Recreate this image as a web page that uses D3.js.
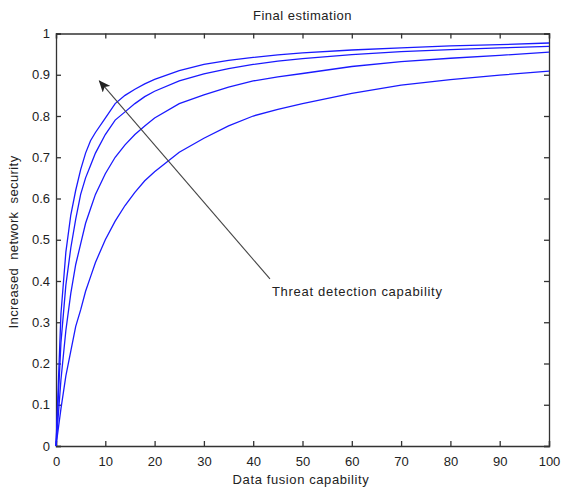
<!DOCTYPE html>
<html>
<head>
<meta charset="utf-8">
<script src="https://d3js.org/d3.v7.min.js"></script>
<style>
  body { margin: 0; background: #fff; }
  text { font-family: "Liberation Sans", Arial, sans-serif; }
</style>
</head>
<body>
<div id="svgdiv"></div>
<script>
// data
var xVals = [0, 1, 2, 3, 4, 5, 6, 7, 8, 10, 12, 14, 16, 18, 20, 25, 30, 35, 40, 45, 50, 60, 70, 80, 90, 100];
var curveA = [0, 0.32, 0.47, 0.56, 0.62, 0.67, 0.71, 0.74, 0.76, 0.795, 0.83, 0.85, 0.865, 0.878, 0.889, 0.91, 0.925, 0.935, 0.942, 0.948, 0.953, 0.96, 0.965, 0.97, 0.973, 0.977];
var curveB = [0, 0.25, 0.39, 0.48, 0.55, 0.61, 0.65, 0.68, 0.71, 0.755, 0.79, 0.81, 0.83, 0.847, 0.86, 0.885, 0.902, 0.915, 0.925, 0.933, 0.939, 0.949, 0.956, 0.961, 0.965, 0.969];
var curveC = [0, 0.16, 0.28, 0.37, 0.44, 0.49, 0.54, 0.575, 0.61, 0.66, 0.70, 0.73, 0.755, 0.776, 0.795, 0.83, 0.851, 0.87, 0.885, 0.895, 0.903, 0.92, 0.932, 0.94, 0.947, 0.955];
var curveD = [0, 0.09, 0.17, 0.23, 0.29, 0.33, 0.375, 0.41, 0.445, 0.50, 0.545, 0.583, 0.615, 0.643, 0.665, 0.712, 0.746, 0.776, 0.80, 0.816, 0.83, 0.855, 0.875, 0.888, 0.899, 0.909];
var xTicks = [0, 10, 20, 30, 40, 50, 60, 70, 80, 90, 100];
var yTicks = [0, 0.1, 0.2, 0.3, 0.4, 0.5, 0.6, 0.7, 0.8, 0.9, 1];
// annotation: arrow from label to upper left
var arrowFrom = [43.4, 0.405];
var arrowTo = [8.8, 0.885];
var noteText = "Threat detection capability";

var width = 564, height = 490;
var margin = {top: 33.5, right: 15, bottom: 44, left: 56};

var svg = d3.select("#svgdiv")
  .append("svg")
  .attr("width", width)
  .attr("height", height);

var x = d3.scaleLinear().domain([0, 100]).range([margin.left, width - margin.right]);
var y = d3.scaleLinear().domain([0, 1]).range([height - margin.bottom, margin.top]);

var axisColor = "#333";

// bottom axis
var gx = svg.append("g")
  .attr("transform", "translate(0," + y(0) + ")")
  .call(d3.axisBottom(x).tickValues(xTicks).tickSize(-5).tickPadding(14).tickFormat(d3.format("d")));
// left axis
var gy = svg.append("g")
  .attr("transform", "translate(" + x(0) + ",0)")
  .call(d3.axisLeft(y).tickValues(yTicks).tickSize(-5).tickPadding(6).tickFormat(function(d){ return d === 0 || d === 1 ? d3.format("d")(d) : d3.format(".1f")(d); }));
// top and right (box, inward ticks, no labels)
var gt = svg.append("g")
  .attr("transform", "translate(0," + y(1) + ")")
  .call(d3.axisTop(x).tickValues(xTicks).tickSize(-5).tickFormat(""));
var gr = svg.append("g")
  .attr("transform", "translate(" + x(100) + ",0)")
  .call(d3.axisRight(y).tickValues(yTicks).tickSize(-5).tickFormat(""));

[gx, gy, gt, gr].forEach(function(g){
  g.selectAll("path.domain").attr("stroke", axisColor).attr("stroke-width", 1.3);
  g.selectAll(".tick line").attr("stroke", axisColor).attr("stroke-width", 1.3);
  g.selectAll(".tick text")
    .attr("fill", "#222")
    .style("font-size", "13px")
    .style("font-family", "'Liberation Sans', Arial, sans-serif");
});
gx.selectAll(".tick text").attr("dy", "0.45em");

// curves
var line = d3.line()
  .x(function(d){ return x(d[0]); })
  .y(function(d){ return y(d[1]); });

[curveA, curveB, curveC, curveD].forEach(function(c){
  svg.append("path")
    .datum(c.map(function(v, i){ return [xVals[i], v]; }))
    .attr("fill", "none")
    .attr("stroke", "#1a1aff")
    .attr("stroke-width", 1.3)
    .attr("d", line);
});

// arrow
svg.append("defs").append("marker")
  .attr("id", "head")
  .attr("viewBox", "0 0 12 10")
  .attr("refX", 11)
  .attr("refY", 5)
  .attr("markerWidth", 12)
  .attr("markerHeight", 10)
  .attr("markerUnits", "userSpaceOnUse")
  .attr("orient", "auto")
  .append("path")
  .attr("d", "M0,0 L12,5 L0,10 L3,5 Z")
  .attr("fill", "#222");

svg.append("line")
  .attr("x1", x(arrowFrom[0]))
  .attr("y1", y(arrowFrom[1]))
  .attr("x2", x(arrowTo[0]))
  .attr("y2", y(arrowTo[1]))
  .attr("stroke", "#444")
  .attr("stroke-width", 1.1)
  .attr("marker-end", "url(#head)");

svg.append("text")
  .attr("x", x(arrowFrom[0]) + 2)
  .attr("y", y(arrowFrom[1]) + 17)
  .style("font-size", "13px")
  .style("letter-spacing", "0.7px")
  .attr("fill", "#222")
  .text(noteText);

// title
svg.append("text")
  .attr("x", (x(0) + x(100)) / 2)
  .attr("y", 20)
  .attr("text-anchor", "middle")
  .style("font-size", "13px")
  .style("letter-spacing", "0.5px")
  .attr("fill", "#222")
  .text("Final estimation");

// x label
svg.append("text")
  .attr("x", 301)
  .attr("y", 484)
  .attr("text-anchor", "middle")
  .style("font-size", "13px")
  .style("letter-spacing", "0.6px")
  .attr("fill", "#222")
  .text("Data fusion capability");

// y label
svg.append("text")
  .attr("transform", "translate(18,242) rotate(-90)")
  .attr("text-anchor", "middle")
  .style("font-size", "13px")
  .style("letter-spacing", "0.4px")
  .style("white-space", "pre")
  .attr("fill", "#222")
  .text("Increased  network  security");
</script>
</body>
</html>
